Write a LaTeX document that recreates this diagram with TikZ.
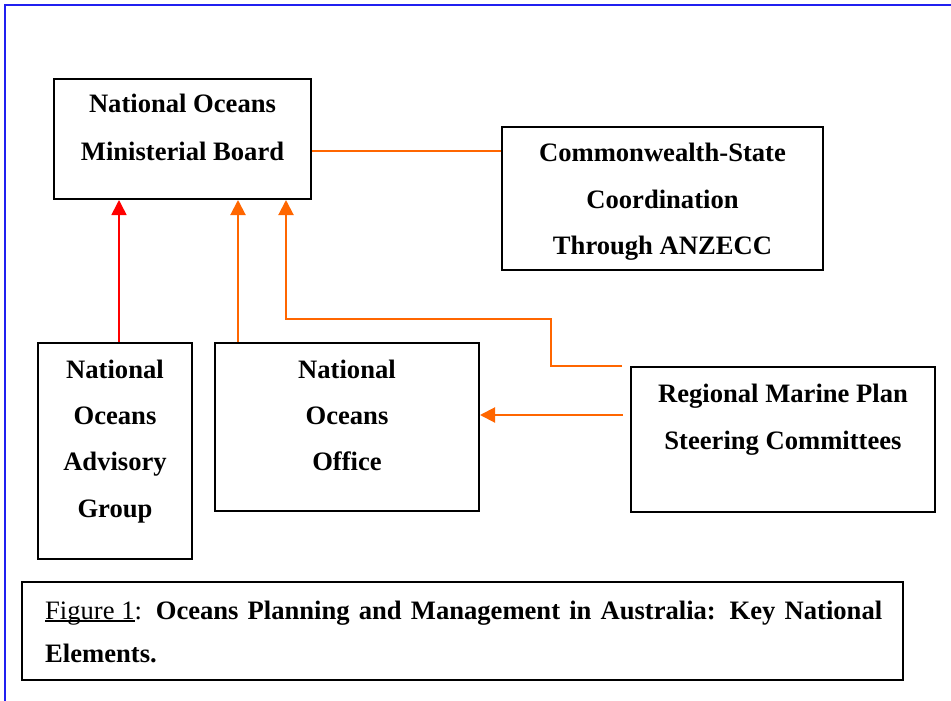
\documentclass[tikz,border=0pt]{standalone}
\usepackage{fontspec}
\setmainfont{Liberation Serif}
\usetikzlibrary{arrows.meta}
% underline sitting just below the baseline
\newcommand{\figul}[1]{\setbox0\hbox{#1}\rlap{\rule[-2.6pt]{\wd0}{1.3pt}}\box0}
\definecolor{oorange}{HTML}{FF6600}
\definecolor{ored}{HTML}{FF0000}
\definecolor{oblue}{HTML}{2020F0}
\begin{document}
\begin{tikzpicture}[x=1pt,y=-1pt,
  box/.style={draw=black,line width=2pt,rectangle,inner sep=0pt},
  lbl/.style={anchor=base,inner sep=0pt,font=\fontsize{26.6}{30}\selectfont\bfseries},
  captext/.style={anchor=base west,inner sep=0pt,font=\fontsize{26.6}{30}\selectfont},
  link/.style={draw=oorange,line width=2pt},
  tip/.style={-{Triangle[width=15pt,length=15pt]}}
]
\useasboundingbox (0,0) rectangle (951,701);
\fill[white] (0,0) rectangle (951,701);
% page frame (left and top edges)
\draw[oblue,line width=1.8pt] (5,701) -- (5,5) -- (951,5);

% boxes
\node[box,minimum width=257pt,minimum height=120pt] (A) at (182.5,139) {};
\node[box,minimum width=321pt,minimum height=143pt] (B) at (662.5,198.5) {};
\node[box,minimum width=154pt,minimum height=216pt] (C) at (115,451) {};
\node[box,minimum width=264pt,minimum height=168pt] (D) at (347,427) {};
\node[box,minimum width=304pt,minimum height=145pt] (E) at (783,439.5) {};
\node[box,minimum width=881pt,minimum height=98pt] (F) at (462.5,631) {};

% box labels
\node[lbl] (a1) at (182.5,113) {National Oceans};
\node[lbl] (a2) at (182.5,160) {Ministerial Board};
\node[lbl] (b1) at (662.5,161.5) {Commonwealth-State};
\node[lbl] (b2) at (662.5,208) {Coordination};
\node[lbl] (b3) at (662.5,254.5) {Through ANZECC};
\node[lbl] (c1) at (115,378) {National};
\node[lbl] (c2) at (115,424) {Oceans};
\node[lbl] (c3) at (115,470) {Advisory};
\node[lbl] (c4) at (115,517) {Group};
\node[lbl] (d1) at (347,378) {National};
\node[lbl] (d2) at (347,424) {Oceans};
\node[lbl] (d3) at (347,470) {Office};
\node[lbl] (e1) at (783,402.5) {Regional Marine Plan};
\node[lbl] (e2) at (783,449) {Steering Committees};

% caption
\node[captext] (f1) at (45,619) {\makebox[837pt][s]{\figul{Figure 1}: \bfseries Oceans Planning and Management in Australia: Key National}};
\node[captext] (f2) at (45,662) {\bfseries Elements.};

% connectors
\coordinate (ab) at (0,151);
\draw[oorange,line width=1.4pt] (A.east |- ab) -- (B.west |- ab);
\draw[ored,line width=1.6pt,tip] ([xshift=4pt]C.north) -- ([xshift=4pt]C.north |- A.south);
\draw[link,tip] ([xshift=24pt]D.north west) -- ([xshift=24pt]D.north west |- A.south);
\coordinate (eb) at (551,319);
\draw[link,tip] ([xshift=-8pt]E.north west) -| (eb) -| ([xshift=233pt]A.south west);
\coordinate (eo) at (623,415);
\draw[link,tip] (eo) -- (eo -| D.east);
\end{tikzpicture}
\end{document}
